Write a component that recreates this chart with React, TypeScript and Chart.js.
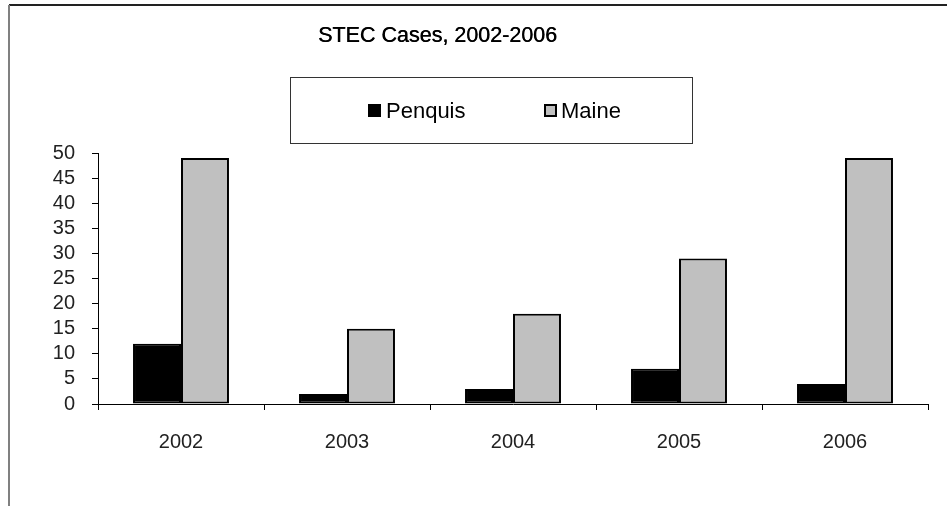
import React, { useEffect, useRef } from "react";
import { Chart, registerables } from "chart.js";

Chart.register(...registerables);

const categories = ["2002", "2003", "2004", "2005", "2006"];
const penquisValues = [12, 2, 3, 7, 4];
const maineValues = [49, 15, 18, 29, 49];
const seriesNames = ["Penquis", "Maine"];
const titleText = "STEC Cases, 2002-2006";

const FONT = "'Liberation Sans', Arial, sans-serif";

const decorPlugin = {
  id: "decor",
  beforeDraw(chart: any) {
    const ctx = chart.ctx;
    ctx.save();
    ctx.fillStyle = "#ffffff";
    ctx.fillRect(0, 0, chart.width, chart.height);
    // outer frame (top and left visible)
    ctx.fillStyle = "#222222";
    ctx.fillRect(9, 4, chart.width - 9, 2);
    ctx.fillStyle = "#808080";
    ctx.fillRect(8, 5, 2, chart.height - 5);
    ctx.restore();
  },
  afterDraw(chart: any) {
    const ctx = chart.ctx;
    ctx.save();
    // title
    ctx.fillStyle = "#000";
    ctx.font = `21.5px ${FONT}`;
    ctx.textAlign = "center";
    ctx.textBaseline = "alphabetic";
    ctx.fillText(titleText, 437.5, 42);
    ctx.fillText(titleText, 437.9, 42);
    // legend box
    ctx.fillStyle = "#fff";
    ctx.fillRect(290, 77, 402, 66);
    ctx.strokeStyle = "#333";
    ctx.lineWidth = 1;
    ctx.strokeRect(290.5, 77.5, 402, 66);
    const ds = chart.data.datasets;
    const items = [
      { x: 368, tx: 386 },
      { x: 544, tx: 561 },
    ];
    ctx.font = `22px ${FONT}`;
    ctx.textAlign = "left";
    items.forEach((it, i) => {
      ctx.fillStyle = ds[i].backgroundColor;
      ctx.fillRect(it.x, 104, 13, 13);
      ctx.strokeStyle = "#000";
      ctx.lineWidth = 2;
      ctx.strokeRect(it.x + 1, 105, 11, 11);
      ctx.fillStyle = "#000";
      ctx.fillText(seriesNames[i], it.tx, 118);
    });
    ctx.restore();
  },
};

export default function App() {
  const ref = useRef<HTMLCanvasElement | null>(null);
  useEffect(() => {
    if (!ref.current) return;
    const chart = new Chart(ref.current, {
      type: "bar",
      data: {
        labels: categories,
        datasets: [
          {
            label: seriesNames[0],
            data: penquisValues,
            backgroundColor: "#000000",
            borderColor: "#000000",
            borderWidth: 2,
            borderSkipped: false,
          },
          {
            label: seriesNames[1],
            data: maineValues,
            backgroundColor: "#C0C0C0",
            borderColor: "#000000",
            borderWidth: 2,
            borderSkipped: false,
          },
        ],
      },
      options: {
        responsive: false,
        animation: false,
        devicePixelRatio: 1,
        layout: { padding: { left: 0, right: 19, top: 153, bottom: 42 } },
        datasets: { bar: { categoryPercentage: 0.578, barPercentage: 1 } },
        plugins: {
          legend: { display: false },
          title: { display: false },
          tooltip: { enabled: false },
        },
        scales: {
          x: {
            grid: {
              display: true,
              drawOnChartArea: false,
              drawTicks: true,
              tickLength: 6,
              color: "#000",
              offset: true,
            },
            border: { display: true, color: "#000", width: 1 },
            ticks: {
              color: "#222",
              font: { family: FONT, size: 20 },
              padding: 20,
              maxRotation: 0,
              autoSkip: false,
            },
            afterFit(scale: any) {
              scale.height = 60;
            },
          },
          y: {
            min: 0,
            max: 50,
            grid: {
              display: true,
              drawOnChartArea: false,
              drawTicks: true,
              tickLength: 6,
              color: "#000",
            },
            border: { display: true, color: "#000", width: 1 },
            ticks: {
              stepSize: 5,
              autoSkip: false,
              color: "#222",
              font: { family: FONT, size: 20 },
              padding: 17,
            },
            afterFit(scale: any) {
              scale.width = 98;
            },
          },
        },
      },
      plugins: [decorPlugin],
    });
    return () => chart.destroy();
  }, []);
  return (
    <div
      style={{
        position: "fixed",
        left: 0,
        top: 0,
        width: 947,
        height: 506,
        background: "#fff",
      }}
    >
      <canvas ref={ref} width={947} height={506} style={{ display: "block" }} />
    </div>
  );
}
